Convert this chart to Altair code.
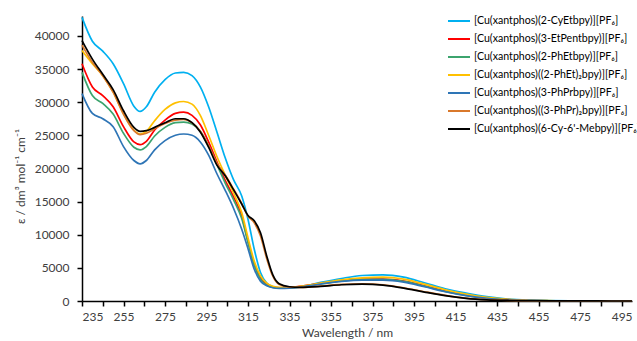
import altair as alt
import pandas as pd

wavelength = [235, 240, 245, 250, 255, 260, 263, 266, 270, 275, 280, 284, 288, 292, 296,
              300, 304, 308, 312, 315, 318, 321, 324, 327, 330, 335, 340, 350, 360, 370,
              380, 390, 400, 410, 420, 430, 440, 450, 460, 470, 480, 490, 500]

cy_etbpy = [42800, 39200, 37700, 35800, 32800, 29400, 28600, 29300, 31500, 33400, 34400, 34500, 34000, 32300, 29300,
            25500, 21600, 18300, 15800, 12300, 7800, 4300, 2700, 2150, 1980, 1950, 2100, 2800, 3400, 3850,
            3950, 3600, 2750, 1850, 1200, 650, 300, 130, 60, 30, 20, 10, 5]
etpentbpy = [35800, 32300, 31000, 29300, 26300, 24000, 23600, 24100, 25800, 27300, 28300, 28500, 28000, 26600, 24000,
             21000, 18200, 15700, 12800, 9000, 5600, 3500, 2500, 2100, 2000, 2050, 2200, 2650, 3050, 3300,
             3300, 3000, 2300, 1500, 900, 450, 200, 90, 40, 20, 10, 5, 3]
phetbpy = [34500, 31000, 29800, 28200, 25300, 23200, 22800, 23300, 24900, 26200, 26900, 27000, 26700, 25600, 23400,
           20600, 17800, 15300, 12400, 8800, 5400, 3300, 2400, 2050, 1950, 2000, 2150, 2600, 3000, 3250,
           3250, 2950, 2250, 1450, 850, 420, 190, 85, 40, 20, 10, 5, 3]
phet2bpy = [37800, 35800, 34000, 31500, 28200, 25800, 25200, 25600, 27200, 28900, 29900, 30100, 29700, 28000, 25000,
            21800, 19000, 16300, 13300, 9500, 6000, 3800, 2700, 2200, 2050, 2050, 2200, 2700, 3200, 3500,
            3600, 3300, 2550, 1700, 1050, 550, 250, 110, 50, 25, 15, 8, 4]
phprbpy = [31300, 28300, 27500, 26300, 23300, 21200, 20700, 21200, 22800, 24200, 25000, 25200, 25000, 24000, 22000,
           19200, 16700, 14000, 10800, 7900, 4800, 3000, 2300, 2000, 1900, 1950, 2100, 2550, 2950, 3150,
           3150, 2850, 2150, 1400, 800, 400, 180, 80, 35, 18, 10, 5, 3]
phpr2bpy = [38600, 36000, 34000, 31500, 28200, 25700, 25100, 25300, 26000, 26800, 27300, 27400, 26900, 25600, 23400,
            20800, 19000, 16900, 14700, 12800, 11800, 9800, 6400, 3700, 2500, 2100, 2050, 2250, 2500, 2600,
            2450, 2000, 1400, 850, 430, 200, 90, 40, 18, 9, 5, 3, 2]
cy_mebpy = [39300, 36500, 34200, 31900, 28700, 26200, 25600, 25700, 26200, 26900, 27500, 27500, 26900, 25500, 23200,
            20500, 18900, 16800, 14600, 12900, 12100, 10300, 6800, 3900, 2600, 2150, 2050, 2200, 2450, 2550,
            2400, 1950, 1350, 800, 400, 180, 80, 35, 15, 8, 5, 3, 2]

names = ["[Cu(xantphos)(2-CyEtbpy)][PF\u2086]",
         "[Cu(xantphos)(3-EtPentbpy)][PF\u2086]",
         "[Cu(xantphos)(2-PhEtbpy)][PF\u2086]",
         "[Cu(xantphos)((2-PhEt)\u2082bpy)][PF\u2086]",
         "[Cu(xantphos)(3-PhPrbpy)][PF\u2086]",
         "[Cu(xantphos)((3-PhPr)\u2082bpy)][PF\u2086]",
         "[Cu(xantphos)(6-Cy-6'-Mebpy)][PF\u2086]"]
colors = ["#00B0F0", "#FF0000", "#3CA46E", "#FFC000", "#2E75B6", "#D9782B", "#000000"]
series = [cy_etbpy, etpentbpy, phetbpy, phet2bpy, phprbpy, phpr2bpy, cy_mebpy]

rows = []
for i, (n, s) in enumerate(zip(names, series)):
    for w, v in zip(wavelength, s):
        rows.append({"wl": w, "eps": v, "complex": n, "k": i})
df = pd.DataFrame(rows)

FONT = "Lato"
x_ticks = list(range(235, 500, 10))

chart = alt.Chart(df).mark_line(strokeWidth=1.7, interpolate="monotone").encode(
    x=alt.X("wl:Q", scale=alt.Scale(domain=[235, 500], nice=False, zero=False),
            axis=alt.Axis(title="Wavelength / nm", values=x_ticks, format="d",
                          labelExpr="(datum.value - 235) % 20 == 0 ? datum.label : ''",
                          grid=False, tickSize=5, labelPadding=5, titlePadding=5,
                          titleX=265)),
    y=alt.Y("eps:Q", scale=alt.Scale(domain=[0, 43000], nice=False),
            axis=alt.Axis(title="\u03b5 / dm\u00b3 mol\u207b\u00b9 cm\u207b\u00b9",
                          values=list(range(0, 40001, 5000)), format="d",
                          grid=False, tickSize=5, labelPadding=8,
                          titleX=-62, titleY=160, titleBaseline="middle")),
    color=alt.Color("complex:N", scale=alt.Scale(domain=names, range=colors),
                    legend=alt.Legend(title=None, orient="none", legendX=365, legendY=-7,
                                      symbolType="stroke", symbolSize=484, symbolStrokeWidth=2,
                                      labelLimit=400, labelFontSize=10.6, rowPadding=0,
                                      padding=0, labelOffset=3)),
    order=alt.Order("k:Q"),
    detail="complex:N",
).properties(
    width=550, height=285,
    padding={"left": 82, "top": 16, "right": 5, "bottom": 40},
    autosize=alt.AutoSizeParams(type="none"),
).configure_view(stroke=None).configure_axis(
    domainColor="#000000", tickColor="#000000", domainWidth=1.5, tickWidth=1.5,
    labelFont=FONT, titleFont=FONT, labelFontSize=12, titleFontSize=12,
    labelColor="#404040", titleColor="#404040", titleFontWeight="normal",
).configure_legend(labelFont=FONT, labelColor="#000000")

chart.save("out.html", embed_options={"renderer": "svg", "actions": False})
